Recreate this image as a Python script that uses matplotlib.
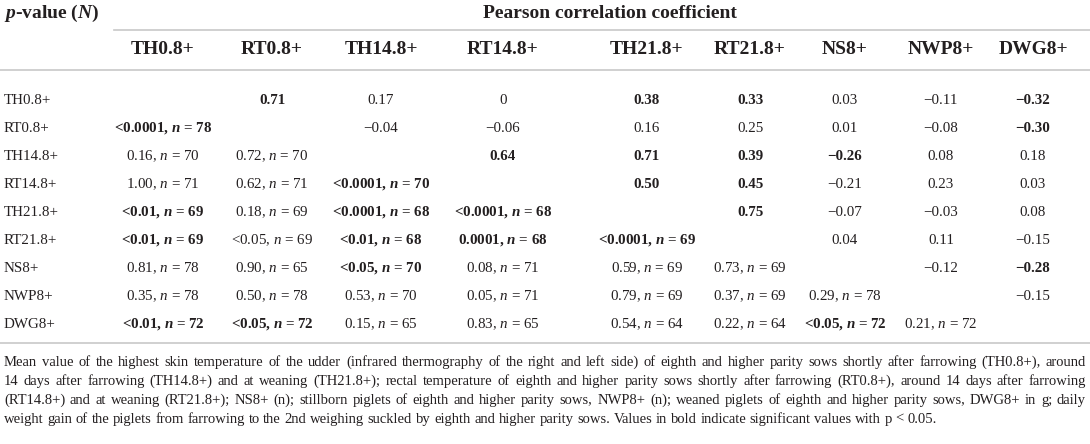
"""
Correlation table (Pearson r above diagonal, p-value and n below) redrawn with matplotlib
"""

import matplotlib
matplotlib.use('Agg')
import matplotlib.pyplot as plt

plt.rcParams['font.family'] = ['Liberation Serif', 'DejaVu Serif']
plt.rcParams['mathtext.fontset'] = 'custom'
plt.rcParams['mathtext.rm'] = 'Liberation Serif'
plt.rcParams['mathtext.it'] = 'Liberation Serif:italic'
plt.rcParams['mathtext.bf'] = 'Liberation Serif:bold'
plt.rcParams['mathtext.bfit'] = 'Liberation Serif:bold:italic'

# variables (same order for rows and columns)
variables = ['TH0.8+', 'RT0.8+', 'TH14.8+', 'RT14.8+', 'TH21.8+',
             'RT21.8+', 'NS8+', 'NWP8+', 'DWG8+']

# Pearson r, upper triangle (row i, columns i+1 ..)
r_values = [
    [0.71, 0.17, 0, 0.38, 0.33, 0.03, -0.11, -0.32],
    [-0.04, -0.06, 0.16, 0.25, 0.01, -0.08, -0.30],
    [0.64, 0.71, 0.39, -0.26, 0.08, 0.18],
    [0.50, 0.45, -0.21, 0.23, 0.03],
    [0.75, -0.07, -0.03, 0.08],
    [0.04, 0.11, -0.15],
    [-0.12, -0.28],
    [-0.15],
    [],
]

# p-values and n, lower triangle (row i, columns 0 .. i-1)
p_values = [
    [],
    ['<0.0001'],
    ['0.16', '0.72'],
    ['1.00', '0.62', '<0.0001'],
    ['<0.01', '0.18', '<0.0001', '<0.0001'],
    ['<0.01', '<0.05', '<0.01', '0.0001', '<0.0001'],
    ['0.81', '0.90', '<0.05', '0.08', '0.59', '0.73'],
    ['0.35', '0.50', '0.53', '0.05', '0.79', '0.37', '0.29'],
    ['<0.01', '<0.05', '0.15', '0.83', '0.54', '0.22', '<0.05', '0.21'],
]
n_values = [
    [],
    [78],
    [70, 70],
    [71, 71, 70],
    [69, 69, 68, 68],
    [69, 69, 68, 68, 69],
    [78, 65, 70, 71, 69, 69],
    [78, 78, 70, 71, 69, 69, 78],
    [72, 72, 65, 65, 64, 64, 72, 72],
]

# cells printed in bold (row, column)
bold_cells = {
    (0, 1), (0, 4), (0, 5), (0, 8), (1, 8), (2, 3), (2, 4), (2, 5), (2, 6),
    (3, 4), (3, 5), (4, 5), (6, 8),
    (1, 0), (3, 2), (4, 0), (4, 2), (4, 3), (5, 0), (5, 2), (5, 3), (5, 4),
    (6, 2), (8, 0), (8, 1), (8, 6),
}

footnote = [
    "Mean value of the highest skin temperature of the udder (infrared thermography of the right and left side) "
    "of eighth and higher parity sows shortly after farrowing (TH0.8+), around",
    "14 days after farrowing (TH14.8+) and at weaning (TH21.8+); rectal temperature of eighth and higher parity "
    "sows shortly after farrowing (RT0.8+), around 14 days after farrowing",
    "(RT14.8+) and at weaning (RT21.8+); NS8+ (n); stillborn piglets of eighth and higher parity sows, NWP8+ (n); "
    "weaned piglets of eighth and higher parity sows, DWG8+ in g; daily",
    "weight gain of the piglets from farrowing to the 2nd weighing suckled by eighth and higher parity sows. "
    "Values in bold indicate significant values with p < 0.05.",
]

TEXT = '#231f20'
LINE = '#c8c8c8'
col_x = [163, 272, 381, 503, 647, 750, 845, 941, 1033]
row_y0, row_step = 100, 28
HEAD_SIZE, BODY_SIZE, NOTE_SIZE = 14, 10.8, 10.5


def fmt_r(v):
    s = f"{v:.2f}" if v != 0 else "0"
    return s.replace('-', '\u2212')


def fmt_p(p, n, bold):
    n_tex = r'$\mathbfit{n}$' if bold else r'$\mathit{n}$'
    return f"{p}, {n_tex} = {n}"


def justified_line(ax, renderer, text, y, x0, x1, size, justify=True):
    """Place words one by one so the line fills x0..x1"""
    words = text.split(' ')
    objs = [ax.text(0, y, w, fontsize=size, color=TEXT, va='center', ha='left') for w in words]
    widths = [o.get_window_extent(renderer).width for o in objs]
    if justify and len(words) > 1:
        gap = (x1 - x0 - sum(widths)) / (len(words) - 1)
    else:
        gap = size * 0.25 * 100 / 72
    x = x0
    for o, w in zip(objs, widths):
        o.set_x(x)
        x += w + gap


fig = plt.figure(figsize=(10.9, 4.44), dpi=100)
ax = fig.add_axes([0, 0, 1, 1])
ax.set_xlim(0, 1090)
ax.set_ylim(444, 0)
ax.axis('off')

# header rows
ax.text(4, 13, r'$\mathbfit{p}$-value ($\mathbfit{N}$)', fontsize=HEAD_SIZE, fontweight='bold',
        color=TEXT, va='center', ha='left')
ax.text(610, 13, 'Pearson correlation coefficient', fontsize=HEAD_SIZE, fontweight='bold',
        color=TEXT, va='center', ha='center')
ax.plot([114, 1090], [30, 30], color=LINE, lw=1.2)
for j, name in enumerate(variables):
    ax.text(col_x[j], 50, name, fontsize=HEAD_SIZE, fontweight='bold', color=TEXT,
            va='center', ha='center')
ax.plot([0, 1090], [70, 70], color=LINE, lw=1.2)

# body
for i, name in enumerate(variables):
    y = row_y0 + i * row_step
    ax.text(4, y, name, fontsize=BODY_SIZE, color=TEXT, va='center', ha='left')
    for k, v in enumerate(r_values[i]):
        j = i + 1 + k
        bold = (i, j) in bold_cells
        ax.text(col_x[j], y, fmt_r(v), fontsize=BODY_SIZE, color=TEXT, va='center', ha='center',
                fontweight='bold' if bold else 'normal')
    for j, (p, n) in enumerate(zip(p_values[i], n_values[i])):
        bold = (i, j) in bold_cells
        ax.text(col_x[j], y, fmt_p(p, n, bold), fontsize=BODY_SIZE, color=TEXT, va='center',
                ha='center', fontweight='bold' if bold else 'normal')

ax.plot([0, 1090], [343, 343], color=LINE, lw=1.2)

# footnote, justified like the journal layout
renderer = fig.canvas.get_renderer()
for k, line in enumerate(footnote):
    justified_line(ax, renderer, line, 362 + k * 19, 4, 1086, NOTE_SIZE,
                   justify=k < len(footnote) - 1)

fig.savefig('out.png', dpi=100)
plt.close(fig)
